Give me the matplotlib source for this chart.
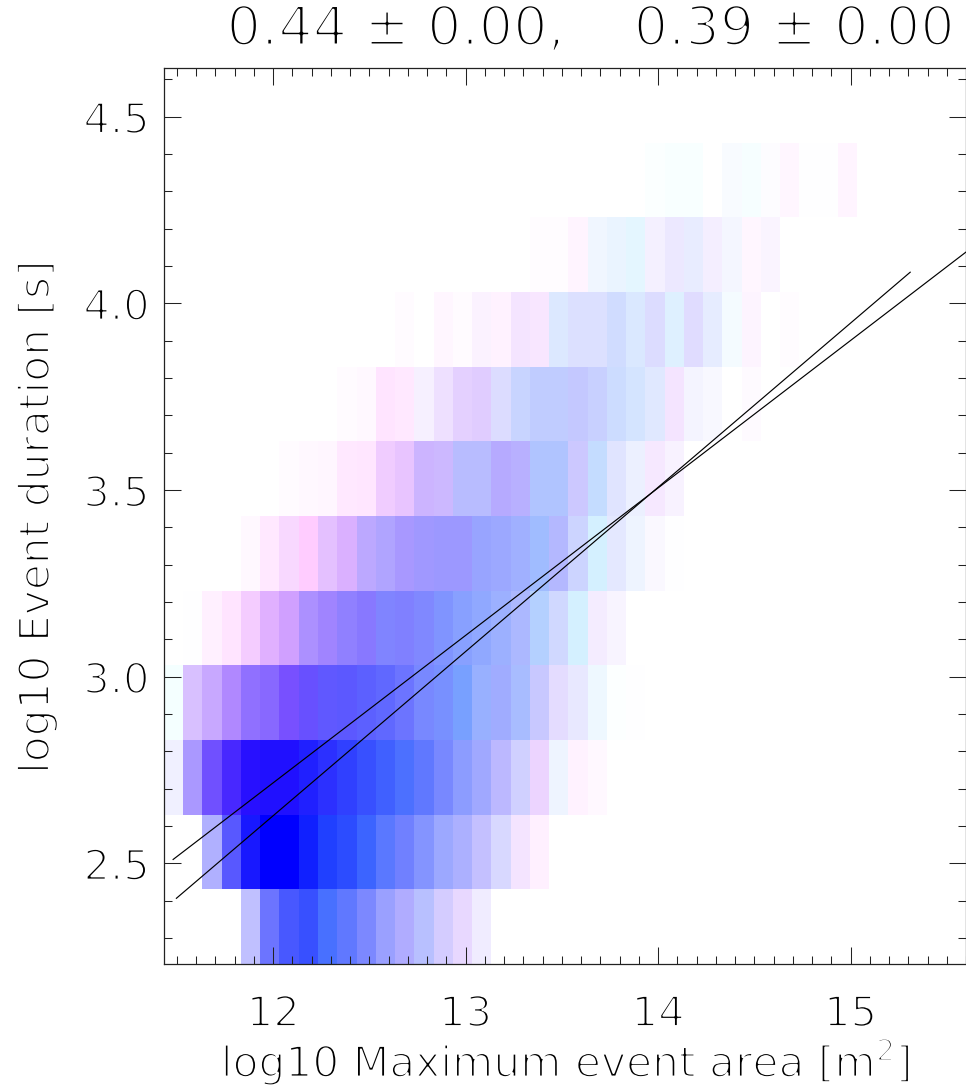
import numpy as np
import matplotlib
matplotlib.use('Agg')
import matplotlib.pyplot as plt
import matplotlib.patheffects as pe
from matplotlib.ticker import MultipleLocator

plt.rcParams['font.family'] = ['DejaVu Sans']
plt.rcParams['mathtext.default'] = 'regular'

# cell colours are an RGB composite with blue saturated, so only red and green vary
# rows run bottom to top, columns left to right, missing columns are empty (0xff)
red_233 = [0xff, 0xff, 0xff, 0xff, 0xc0, 0x6c, 0x48, 0x38, 0x48, 0x60, 0x7c, 0x9a, 0xb0, 0xb8, 0xd4, 0xe8, 0xf0]
green_233 = [0xff, 0xff, 0xff, 0xff, 0xc0, 0x74, 0x58, 0x50, 0x70, 0x78, 0x88, 0xa0, 0xac, 0xc0, 0xcc, 0xd8, 0xec]

red_243 = [0xff, 0xff, 0xb0, 0x58, 0x18, 0x00, 0x00, 0x10, 0x20, 0x2c, 0x3c, 0x5a, 0x70, 0x84, 0x9c, 0xac, 0xc4, 0xd8, 0xf4, 0xff]
green_243 = [0xff, 0xff, 0xb0, 0x58, 0x18, 0x00, 0x00, 0x20, 0x40, 0x4c, 0x64, 0x78, 0x80, 0x94, 0xa8, 0xb0, 0xc0, 0xd8, 0xe4, 0xf0]

red_263 = [0xf0, 0xaa, 0x70, 0x48, 0x28, 0x20, 0x20, 0x20, 0x2c, 0x30, 0x38, 0x40, 0x4c, 0x60, 0x78, 0x8c, 0xa0, 0xbc, 0xd0, 0xec, 0xee, 0xff, 0xff]
green_263 = [0xf0, 0x98, 0x50, 0x28, 0x10, 0x10, 0x10, 0x20, 0x30, 0x40, 0x50, 0x60, 0x70, 0x78, 0x88, 0x9c, 0xa8, 0xb8, 0xd0, 0xd4, 0xf4, 0xf2, 0xf8]

red_283 = [0xf4, 0xd8, 0xc8, 0xb0, 0x90, 0x88, 0x78, 0x68, 0x60, 0x5c, 0x5c, 0x60, 0x6c, 0x78, 0x78, 0x78, 0x98, 0xa0, 0xa8, 0xc8, 0xe4, 0xe8, 0xee, 0xfc, 0xfe]
green_283 = [0xff, 0xc0, 0xa8, 0x88, 0x70, 0x68, 0x50, 0x50, 0x58, 0x58, 0x60, 0x68, 0x74, 0x88, 0x90, 0xa0, 0xb0, 0xac, 0xbc, 0xc8, 0xdc, 0xe8, 0xf8, 0xff, 0xfe]

red_303 = [0xff, 0xfe, 0xff, 0xff, 0xf4, 0xe0, 0xd0, 0xac, 0xa0, 0x90, 0x88, 0x80, 0x80, 0x80, 0x80, 0x88, 0x90, 0x9c, 0xac, 0xb4, 0xd0, 0xd4, 0xf4, 0xf8]
green_303 = [0xff, 0xfe, 0xf0, 0xe4, 0xcc, 0xb0, 0xa0, 0x90, 0x84, 0x80, 0x78, 0x84, 0x80, 0x88, 0x94, 0xa0, 0xa8, 0xb0, 0xb8, 0xd0, 0xd8, 0xf0, 0xec, 0xf4]

red_323 = [0xff, 0xff, 0xff, 0xff, 0xff, 0xff, 0xf8, 0xff, 0xe4, 0xda, 0xbc, 0xb0, 0xa8, 0xa0, 0x9c, 0x9c, 0x98, 0x9c, 0xa0, 0xa0, 0xb4, 0xcc, 0xd4, 0xe4, 0xee, 0xfa, 0xfe]
green_323 = [0xff, 0xff, 0xff, 0xff, 0xf8, 0xe8, 0xd8, 0xcc, 0xc0, 0xb0, 0xa8, 0xa4, 0x98, 0x98, 0x98, 0x98, 0xa4, 0xa8, 0xb0, 0xbc, 0xb8, 0xd4, 0xf0, 0xe8, 0xf4, 0xf8, 0xfe]

red_343 = [0xff, 0xff, 0xff, 0xff, 0xff, 0xff, 0xff, 0xff, 0xff, 0xff, 0xff, 0xf0, 0xe8, 0xcc, 0xcc, 0xb8, 0xb8, 0xb6, 0xb8, 0xb0, 0xb0, 0xcc, 0xc4, 0xe0, 0xec, 0xf6, 0xf8]
green_343 = [0xff, 0xff, 0xff, 0xff, 0xff, 0xff, 0xfb, 0xf8, 0xf6, 0xe8, 0xe6, 0xcc, 0xc4, 0xb4, 0xb8, 0xbc, 0xbc, 0xaa, 0xb0, 0xc4, 0xc4, 0xc8, 0xdc, 0xe4, 0xf0, 0xe8, 0xf2]

red_363 = [0xff] * 9 + [0xff, 0xff, 0xff, 0xff, 0xf6, 0xee, 0xe4, 0xe0, 0xdc, 0xc8, 0xc0, 0xc0, 0xc4, 0xc8, 0xcc, 0xd4, 0xe0, 0xf4, 0xf4, 0xf8, 0xff, 0xfe]
green_363 = [0xff] * 9 + [0xfb, 0xf8, 0xe4, 0xe8, 0xf0, 0xe0, 0xd0, 0xcc, 0xdc, 0xd4, 0xcc, 0xcc, 0xc8, 0xd0, 0xdc, 0xe4, 0xe8, 0xe4, 0xf4, 0xf8, 0xff, 0xfa]

red_383 = [0xff] * 12 + [0xff, 0xff, 0xff, 0xff, 0xfb, 0xff, 0xf4, 0xf8, 0xdc, 0xdc, 0xdc, 0xd0, 0xda, 0xdc, 0xde, 0xe0, 0xe6, 0xf4, 0xfd, 0xff, 0xff]
green_383 = [0xff] * 12 + [0xfb, 0xff, 0xf6, 0xfb, 0xf2, 0xf2, 0xe4, 0xe6, 0xe8, 0xe0, 0xe0, 0xdc, 0xe8, 0xdc, 0xf0, 0xdc, 0xec, 0xfb, 0xf4, 0xff, 0xfc]

red_403 = [0xff] * 19 + [0xff, 0xff, 0xff, 0xf0, 0xea, 0xe4, 0xf4, 0xec, 0xe8, 0xf4, 0xf4, 0xff, 0xfa]
green_403 = [0xff] * 19 + [0xfc, 0xfc, 0xf4, 0xf6, 0xf4, 0xf6, 0xf0, 0xe8, 0xec, 0xee, 0xf6, 0xf6, 0xf4]

red_423 = [0xff] * 25 + [0xfb, 0xf8, 0xf8, 0xff, 0xf8, 0xf6, 0xfd, 0xff, 0xfe, 0xfe, 0xff]
green_423 = [0xff] * 25 + [0xff, 0xff, 0xff, 0xff, 0xfb, 0xfe, 0xfc, 0xf6, 0xfe, 0xfe, 0xf4]

red_rows = [red_233, red_243, red_263, red_283, red_303, red_323, red_343, red_363, red_383, red_403, red_423]
green_rows = [green_233, green_243, green_263, green_283, green_303, green_323, green_343, green_363, green_383, green_403, green_423]

x_first_edge = 11.43
y_first_edge = 2.23
bin_x = 0.1
bin_y = 0.2
n_cols = 42
n_rows = 12

# fit lines, end points, they cross near (14, 3.5)
fit1_x = [11.48, 15.6]
fit1_y = [2.51, 4.137]
fit2_x = [11.497, 15.31]
fit2_y = [2.406, 4.083]

title_text = '0.44 \u00b1 0.00,    0.39 \u00b1 0.00'
xlabel_text = 'log10 Maximum event area [m$^2$]'
ylabel_text = 'log10 Event duration [s]'

img = np.full((n_rows, n_cols, 3), 1.0)
for i in range(len(red_rows)):
    n = len(red_rows[i])
    img[i, :n, 0] = np.array(red_rows[i]) / 255
    img[i, :n, 1] = np.array(green_rows[i]) / 255

W, H = 966, 1092
fig = plt.figure(figsize=(W / 100, H / 100), dpi=100)
ax = fig.add_axes([163.5 / W, 1 - 964 / H, (W - 163.5) / W, 896 / H])

extent = [x_first_edge, x_first_edge + n_cols * bin_x, y_first_edge, y_first_edge + n_rows * bin_y]
ax.imshow(img, origin='lower', extent=extent, aspect='auto', interpolation='nearest')

ax.plot(fit1_x, fit1_y, color='black', lw=0.85)
ax.plot(fit2_x, fit2_y, color='black', lw=0.85)

ax.set_xlim(11.43, 15.6)
ax.set_ylim(2.23, 4.63)

ax.xaxis.set_major_locator(MultipleLocator(1))
ax.xaxis.set_minor_locator(MultipleLocator(0.1))
ax.yaxis.set_major_locator(MultipleLocator(0.5))
ax.yaxis.set_minor_locator(MultipleLocator(0.1))
ax.xaxis.set_major_formatter('{x:.0f}')
ax.yaxis.set_major_formatter('{x:.1f}')

ax.tick_params(which='major', direction='in', length=12, width=0.75, top=True, right=True,
               labelsize=30, color='#222222', labelcolor='black')
ax.tick_params(which='minor', direction='in', length=6, width=0.75, top=True, right=True, color='#222222')
ax.tick_params(axis='x', which='major', pad=21)
ax.tick_params(axis='y', which='major', pad=10)
for sp in ax.spines.values():
    sp.set_linewidth(0.9)
    sp.set_color('#222222')

# thin the glyphs down with a white outline, the source font is a thin vector one
thin = [pe.Stroke(linewidth=1.6, foreground='white')]
thin_big = [pe.Stroke(linewidth=2.2, foreground='white')]
for lab in ax.get_xticklabels() + ax.get_yticklabels():
    lab.set_path_effects(thin)

fig.text(566 / W, 1 - 1077 / H, xlabel_text, fontsize=30.5, ha='center', va='baseline', color='black', path_effects=thin)
fig.text(37 / W, 1 - 517 / H, ylabel_text, fontsize=30.5, rotation=90, ha='center', va='center', color='black', path_effects=thin)
fig.text(591 / W, 1 - 45 / H, title_text, fontsize=39, ha='center', va='baseline', color='black', path_effects=thin_big)

fig.savefig('out.png', dpi=100)
